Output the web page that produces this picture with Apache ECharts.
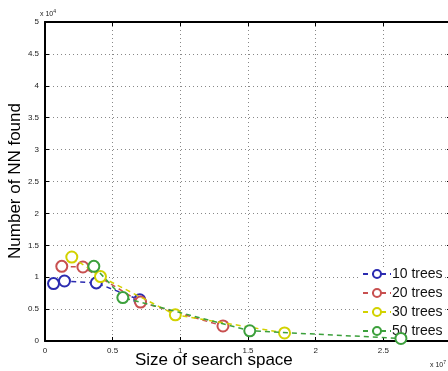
<!DOCTYPE html>
<html>
<head>
<meta charset="utf-8">
<script src="https://cdn.jsdelivr.net/npm/echarts@6/dist/echarts.min.js"></script>
<style>
    html, body { margin: 0; padding: 0; background: #fff; }
    #chart { width: 448px; height: 371px; }
</style>
</head>
<body>
<div id="chart"></div>
<script>
// x in units of 1e7, y in units of 1e4
var seriesNames = ['10 trees', '20 trees', '30 trees', '50 trees'];
var x10 = [0.063, 0.144, 0.379, 0.70];
var y10 = [0.90, 0.94, 0.91, 0.645];
var x20 = [0.124, 0.28, 0.706, 1.315];
var y20 = [1.17, 1.16, 0.61, 0.236];
var x30 = [0.198, 0.41, 0.963, 1.77];
var y30 = [1.316, 1.01, 0.41, 0.126];
var x50 = [0.361, 0.575, 1.513, 2.63];
var y50 = [1.17, 0.68, 0.16, 0.04];
var colors = ['#2b2bb0', '#c85050', '#d2d200', '#3ca03c'];

var pairs = function (xs, ys) {
    var out = [];
    for (var i = 0; i < xs.length; i++) {
        out.push([xs[i], ys[i]]);
    }
    return out;
};

var chart = echarts.init(document.getElementById('chart'));
var axisFont = { fontFamily: 'Liberation Sans', fontSize: 8, color: '#222' };

var mkSeries = function (i, xs, ys) {
    return {
        name: seriesNames[i],
        type: 'line',
        data: pairs(xs, ys),
        symbol: 'emptyCircle',
        symbolSize: 11,
        color: colors[i],
        lineStyle: { type: [5, 4], width: 1.5, color: colors[i] },
        itemStyle: { color: colors[i], borderWidth: 1.5, borderColor: colors[i] },
        animation: false,
        z: 2 + i
    };
};

var option = {
    backgroundColor: '#fff',
    animation: false,
    grid: { left: 45, top: 22, width: 406, height: 319, containLabel: false, outerBoundsMode: 'none' },
    legend: {
        orient: 'vertical',
        left: 360,
        top: 267,
        itemWidth: 28,
        itemHeight: 10,
        itemGap: 5,
        padding: [0, 0, 0, 2],
        backgroundColor: '#fff',
        data: seriesNames,
        textStyle: { fontFamily: 'Liberation Sans', fontSize: 14, color: '#111', padding: [0, 0, 0, -4] }
    },
    xAxis: [{
        type: 'value',
        min: 0, max: 3, interval: 0.5,
        axisLine: { onZero: false, lineStyle: { color: '#000', width: 2 } },
        axisTick: { inside: true, length: 4, lineStyle: { color: '#000' } },
        axisLabel: Object.assign({ margin: 6, showMaxLabel: false }, axisFont),
        splitLine: { show: true, lineStyle: { type: [1, 3], color: '#888' } }
    }, {
        type: 'value', position: 'top',
        min: 0, max: 3, interval: 0.5,
        axisLine: { show: true, onZero: false, lineStyle: { color: '#000', width: 2 } },
        axisTick: { inside: true, length: 4, lineStyle: { color: '#000' } },
        axisLabel: { show: false },
        splitLine: { show: false }
    }],
    yAxis: [{
        type: 'value',
        min: 0, max: 5, interval: 0.5,
        axisLine: { show: true, onZero: false, lineStyle: { color: '#000', width: 2 } },
        axisTick: { inside: true, length: 4, lineStyle: { color: '#000' } },
        axisLabel: Object.assign({ margin: 6 }, axisFont),
        splitLine: { show: true, lineStyle: { type: [1, 3], color: '#888' } }
    }, {
        type: 'value', position: 'right',
        min: 0, max: 5, interval: 0.5,
        axisLine: { show: true, onZero: false, lineStyle: { color: '#000', width: 2 } },
        axisTick: { inside: true, length: 4, lineStyle: { color: '#000' } },
        axisLabel: { show: false },
        splitLine: { show: false }
    }],
    graphic: [{
        type: 'text', left: 40, top: 9,
        style: {
            text: '{a|x 10}{b|4}',
            rich: {
                a: { fontFamily: 'Liberation Sans', fontSize: 7, fill: '#222' },
                b: { fontFamily: 'Liberation Sans', fontSize: 5, fill: '#222', verticalAlign: 'top', padding: [0, 0, 5, 0] }
            }
        }
    }, {
        type: 'text', left: 430, top: 360,
        style: {
            text: '{a|x 10}{b|7}',
            rich: {
                a: { fontFamily: 'Liberation Sans', fontSize: 7, fill: '#222' },
                b: { fontFamily: 'Liberation Sans', fontSize: 5, fill: '#222', verticalAlign: 'top', padding: [0, 0, 5, 0] }
            }
        }
    }, {
        type: 'text', left: 135, top: 352,
        style: { text: 'Size of search space', fontFamily: 'Liberation Sans', fontSize: 17, fill: '#000' }
    }, {
        type: 'text', x: 15, y: 181, rotation: Math.PI / 2,
        style: {
            text: 'Number of NN found', fontFamily: 'Liberation Sans', fontSize: 17, fill: '#000',
            align: 'center', verticalAlign: 'middle'
        }
    }],
    series: [
        mkSeries(0, x10, y10),
        mkSeries(1, x20, y20),
        mkSeries(2, x30, y30),
        mkSeries(3, x50, y50)
    ]
};

chart.setOption(option);
</script>
</body>
</html>
